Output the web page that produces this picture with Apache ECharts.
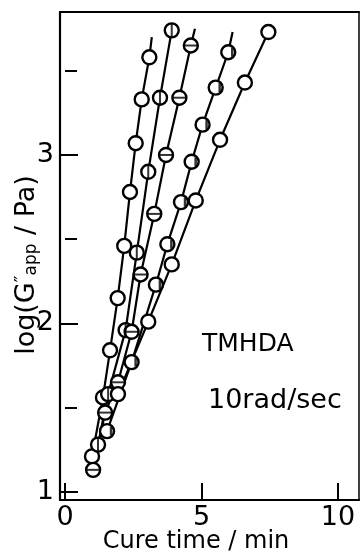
<!DOCTYPE html>
<html>
<head>
<meta http-equiv="Content-Type" content="text/html; charset=utf-8" />
<title>TMHDA cure</title>
<style type="text/css">
body,div{margin:0;padding:0;}
#chart{width:360px;height:553px;background:#fff;}
</style>
<script src="https://cdn.jsdelivr.net/npm/echarts@6/dist/echarts.min.js" type="text/javascript"></script>
<script type="text/javascript">
// cure time (min) / log(G''app/Pa), five runs
var s1X = [0.99, 1.39, 1.65, 1.93, 2.17, 2.38, 2.59, 2.81, 3.09];
var s1Y = [1.21, 1.56, 1.84, 2.15, 2.46, 2.78, 3.07, 3.33, 3.58];
var s2X = [1.21, 1.58, 2.22, 2.63, 3.05, 3.48, 3.91];
var s2Y = [1.28, 1.58, 1.96, 2.42, 2.90, 3.34, 3.74];
var s3X = [1.03, 1.47, 1.94, 2.44, 2.77, 3.27, 3.70, 4.19, 4.61];
var s3Y = [1.13, 1.47, 1.65, 1.95, 2.29, 2.65, 3.00, 3.34, 3.65];
var s4X = [1.54, 2.44, 3.33, 3.75, 4.25, 4.64, 5.04, 5.52, 5.98];
var s4Y = [1.36, 1.77, 2.23, 2.47, 2.72, 2.96, 3.18, 3.40, 3.61];
var s5X = [1.94, 3.05, 3.91, 4.79, 5.68, 6.59, 7.45];
var s5Y = [1.58, 2.01, 2.35, 2.73, 3.09, 3.43, 3.73];
// line ends drawn past the last point (no marker)
var tail1 = [3.18, 3.70];
var tail3 = [4.76, 3.75];
var tail4 = [6.14, 3.73];

var xTicks = [0, 5, 10];
var yTicks = [1, 2, 3];
var yMinor = [1.5, 2.5, 3.5];

var FONT = 'DejaVu Sans';

function pts(xs, ys) {
    return xs.map(function (x, i) { return [x, ys[i]]; });
}
function withTail(xs, ys, tail) {
    var d = pts(xs, ys);
    if (tail) d.push({value: tail, symbol: 'none'});
    return d;
}
function runLine(data) {
    return {
        type: 'line', data: data, symbol: 'circle', symbolSize: 14, showAllSymbol: true,
        lineStyle: {color: '#000', width: 2.2},
        itemStyle: {color: '#fff', borderColor: '#000', borderWidth: 2.4},
        emphasis: {disabled: true}, z: 2
    };
}
function bars(data, size, offset) {
    return {
        type: 'scatter', data: data, symbol: 'rect', symbolSize: size, symbolOffset: offset || [0, 0],
        itemStyle: {color: '#000'}, emphasis: {disabled: true}, z: 3
    };
}

window.onload = function () {
    var myChart = echarts.init(document.getElementById('chart'), null, {renderer: 'canvas'});
    var frame = {show: true, onZero: false, lineStyle: {color: '#000', width: 2}};
    var option = {
        animation: false,
        backgroundColor: '#fff',
        grid: {left: 60, top: 12, width: 299, height: 488, outerBoundsMode: 'none'},
        xAxis: [
            {
                type: 'value', min: -0.183, max: 10.77, position: 'bottom',
                axisLine: {show: true, onZero: false, lineStyle: {color: '#000', width: 2.2}},
                axisTick: {show: true, inside: true, length: 17, customValues: xTicks, lineStyle: {color: '#000', width: 2}},
                axisLabel: {customValues: xTicks, fontSize: 27, color: '#000', margin: 4, fontFamily: FONT},
                splitLine: {show: false}
            },
            {
                type: 'value', min: -0.183, max: 10.77, position: 'top',
                axisLine: frame, axisTick: {show: false}, axisLabel: {show: false}, splitLine: {show: false}
            }
        ],
        yAxis: [
            {
                type: 'value', min: 0.951, max: 3.849, position: 'left',
                axisLine: {show: true, onZero: false, lineStyle: {color: '#000', width: 2.2}},
                axisTick: {show: true, inside: true, length: 18, customValues: yTicks, lineStyle: {color: '#000', width: 2}},
                axisLabel: {customValues: yTicks, fontSize: 27, color: '#000', margin: 6, fontFamily: FONT},
                splitLine: {show: false}
            },
            {
                type: 'value', min: 0.951, max: 3.849, position: 'left',
                axisLine: {show: false},
                axisTick: {show: true, inside: true, length: 12, customValues: yMinor, lineStyle: {color: '#000', width: 2}},
                axisLabel: {show: false}, splitLine: {show: false}
            },
            {
                type: 'value', min: 0.951, max: 3.849, position: 'right',
                axisLine: {show: true, onZero: false, lineStyle: {color: '#000', width: 1.5}},
                axisTick: {show: false}, axisLabel: {show: false}, splitLine: {show: false}
            }
        ],
        graphic: [
            {
                type: 'text', x: 27, y: 265, rotation: Math.PI / 2,
                style: {
                    text: 'log(G{sup|″}{sub|app} / Pa)',
                    font: '27px "DejaVu Sans"', fill: '#000',
                    align: 'center', verticalAlign: 'middle',
                    rich: {
                        sup: {fontSize: 18, fontFamily: FONT, verticalAlign: 'top'},
                        sub: {fontSize: 17, fontFamily: FONT, verticalAlign: 'bottom'}
                    }
                }
            },
            {
                type: 'text', x: 196, y: 542,
                style: {text: 'Cure time / min', font: '24px "DejaVu Sans"', fill: '#000', align: 'center', verticalAlign: 'middle'}
            },
            {
                type: 'text', x: 202, y: 344,
                style: {text: 'TMHDA', font: '25px "DejaVu Sans"', fill: '#000', align: 'left', verticalAlign: 'middle'}
            },
            {
                type: 'text', x: 208, y: 401,
                style: {text: '10rad/sec', font: '27px "DejaVu Sans"', fill: '#000', align: 'left', verticalAlign: 'middle'}
            }
        ],
        series: [
            runLine(withTail(s1X, s1Y, tail1)),
            runLine(withTail(s2X, s2Y)),
            runLine(withTail(s3X, s3Y, tail3)),
            runLine(withTail(s4X, s4Y, tail4)),
            runLine(withTail(s5X, s5Y)),
            bars(pts(s2X, s2Y), [2, 13]),
            bars(pts(s3X, s3Y), [13, 2]),
            bars(pts(s4X, s4Y), [2.5, 9], [4, 0])
        ]
    };
    myChart.setOption(option);
};
</script>
</head>
<body>
<div id="chart"></div>
</body>
</html>
